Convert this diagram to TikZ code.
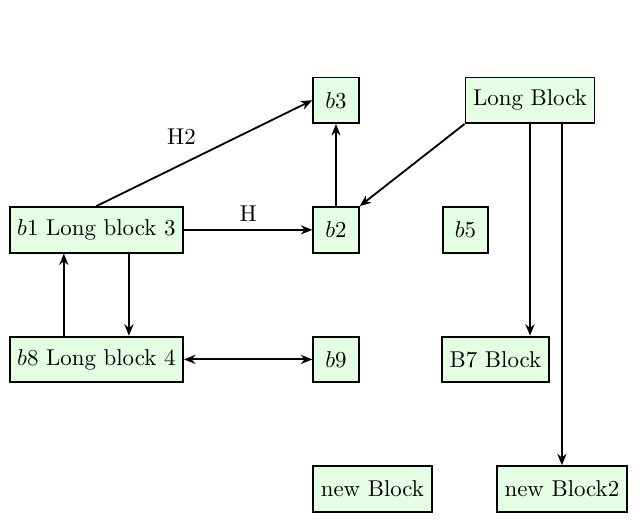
\documentclass[tikz,border=0pt]{standalone}
\usepackage{amssymb}
\usepackage{tikz}
\usetikzlibrary{arrows.meta}
\tikzset{>={Stealth[width=4pt,length=5pt]}}
\tikzset{block/.style={draw=black, thick, fill=green!10, minimum size=0.7cm}}

\begin{document}
\begin{tikzpicture}
	\useasboundingbox (-1.48,-4.49) rectangle (8.38,3.53);
	\node[block] (b1) at (0,0) {$b1$ Long block 3};
	\node[block] (b2) at (3.68,0) {$b2$};
	\node[block] (b3) at (3.68,1.99) {$b3$};
	\node[block] (b5) at (5.67,0) {$b5$};
	\node[block] (lb) at (6.66,1.99) {Long Block};
	\node[block] (b8) at (0,-1.99) {$b8$ Long block 4};
	\node[block] (b9) at (3.68,-1.99) {$b9$};
	\node[block] (b7) at (6.13,-1.99) {B7 Block};
	\node[block] (nb) at (4.24,-3.98) {new Block};
	\node[block] (nb2) at (7.15,-3.98) {new Block2};
	\draw[black,thick,->] (b1.north) -- (b3.west) node[midway, above left] {H2};
	\draw[black,thick,->] (b1) -- (b2) node[midway, above] {H};
	\draw[black,thick,->] (b2) -- (b3);
	\draw[black,thick,->] (lb.south west) -- (b2.north east);
	\draw[black,thick,->] (lb.south) -- (lb.south |- b7.north);
	\draw[black,thick,->] (lb.south -| nb2) -- (nb2);
	\draw[black,thick,->] ([xshift=-5mm]b8.north) -- ([xshift=-5mm]b1.south);
	\draw[black,thick,->] ([xshift=5mm]b1.south) -- ([xshift=5mm]b8.north);
	\draw[black,thick,<->] (b8) -- (b9);
\end{tikzpicture}
\end{document}
